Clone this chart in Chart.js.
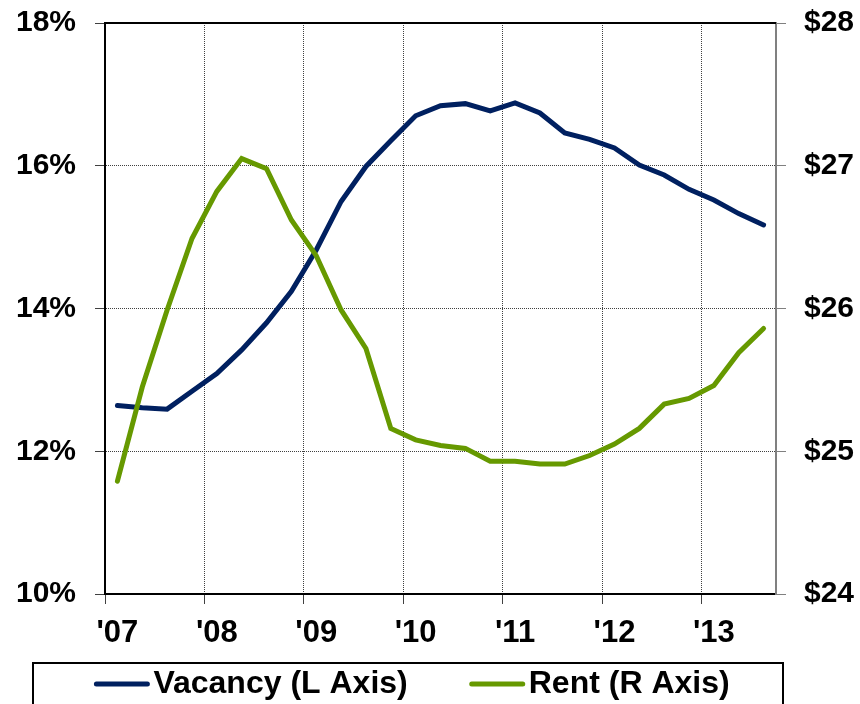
<!DOCTYPE html>
<html>
<head>
<meta charset="utf-8">
<script src="https://cdn.jsdelivr.net/npm/chart.js@4.4.1/dist/chart.umd.min.js"></script>
<style>
  html, body { margin: 0; padding: 0; background: #ffffff; }
  #wrap { width: 860px; height: 704px; }
</style>
</head>
<body>
<div id="wrap"><canvas id="chart" width="860" height="704"></canvas></div>
<script>
// Quarterly observations, 1Q07 through 3Q13
const quarters = [
  '1Q07', '2Q07', '3Q07', '4Q07',
  '1Q08', '2Q08', '3Q08', '4Q08',
  '1Q09', '2Q09', '3Q09', '4Q09',
  '1Q10', '2Q10', '3Q10', '4Q10',
  '1Q11', '2Q11', '3Q11', '4Q11',
  '1Q12', '2Q12', '3Q12', '4Q12',
  '1Q13', '2Q13', '3Q13'
];

// Year labels shown under the first quarter of each year
const yearLabels = ["'07", "'08", "'09", "'10", "'11", "'12", "'13"];

// Vacancy rate, % (left axis)
const vacancy = [
  12.64, 12.61, 12.59, 12.84,
  13.09, 13.42, 13.80, 14.24,
  14.82, 15.50, 15.99, 16.35,
  16.70, 16.84, 16.87, 16.77,
  16.88, 16.74, 16.46, 16.37,
  16.25, 16.01, 15.87, 15.67,
  15.52, 15.33, 15.17
];

// Asking rent, $ per sq ft (right axis)
const rent = [
  24.79, 25.45, 25.99, 26.49,
  26.82, 27.05, 26.98, 26.62,
  26.37, 25.99, 25.72, 25.16,
  25.08, 25.04, 25.02, 24.93,
  24.93, 24.91, 24.91, 24.97,
  25.05, 25.16, 25.33, 25.37,
  25.46, 25.69, 25.86
];

const seriesNames = ['Vacancy (L Axis)', 'Rent (R Axis)'];
const seriesColors = ['#002060', '#669900'];

const FONT = 'Liberation Sans, Arial, Helvetica, sans-serif';
const GRID = '#404040';

// Draws the closing top edge of the plot frame and the boxed key below the axis
const frameAndKey = {
  id: 'frameAndKey',
  afterDraw(chart) {
    const { ctx, chartArea: a } = chart;
    ctx.save();

    ctx.strokeStyle = '#000000';
    ctx.lineWidth = 2;
    ctx.beginPath();
    ctx.moveTo(a.left - 1, a.top);
    ctx.lineTo(a.right, a.top);
    ctx.stroke();

    // key frame
    const box = { left: 33, right: 783, top: 663 };
    ctx.strokeRect(box.left, box.top, box.right - box.left, 60);

    ctx.font = 'bold 32px ' + FONT;
    ctx.textBaseline = 'alphabetic';
    ctx.textAlign = 'left';
    const sample = 55, gap = 4, between = 62;
    const widths = chart.data.datasets.map(d => ctx.measureText(d.label).width);
    const total = widths.reduce((s, w) => s + sample + gap + w, 0) + between * (widths.length - 1);
    let x = (box.left + box.right) / 2 + 4 - total / 2;
    const lineY = 684, textY = 693;
    chart.data.datasets.forEach((d, i) => {
      ctx.strokeStyle = d.borderColor;
      ctx.lineWidth = 5;
      ctx.lineCap = 'round';
      ctx.beginPath();
      ctx.moveTo(x + 2, lineY);
      ctx.lineTo(x + sample - 2, lineY);
      ctx.stroke();
      ctx.fillStyle = '#000000';
      ctx.fillText(d.label, x + sample + gap, textY);
      x += sample + gap + widths[i] + between;
    });
    ctx.restore();
  }
};

// Fixed axis band sizes; label overhang is absorbed by the layout padding
const fixWidth = w => scale => {
  scale.width = w;
  scale.paddingTop = 0;
  scale.paddingBottom = 0;
};

new Chart(document.getElementById('chart'), {
  type: 'line',
  data: {
    labels: quarters,
    datasets: [
      {
        label: seriesNames[0],
        data: vacancy,
        yAxisID: 'yL',
        borderColor: seriesColors[0],
        backgroundColor: seriesColors[0],
        borderWidth: 5,
        borderCapStyle: 'round',
        pointRadius: 0,
        tension: 0,
        order: 1
      },
      {
        label: seriesNames[1],
        data: rent,
        yAxisID: 'yR',
        borderColor: seriesColors[1],
        backgroundColor: seriesColors[1],
        borderWidth: 5,
        borderCapStyle: 'round',
        pointRadius: 0,
        tension: 0,
        order: 0
      }
    ]
  },
  options: {
    responsive: false,
    animation: false,
    devicePixelRatio: 1,
    layout: { padding: { top: 23, left: 0, right: 0, bottom: 0 } },
    plugins: {
      legend: { display: false },
      tooltip: { enabled: false }
    },
    scales: {
      x: {
        type: 'category',
        offset: true,
        afterFit(scale) {
          scale.height = 110;
          scale.paddingLeft = 0;
          scale.paddingRight = 0;
        },
        grid: {
          offset: true,
          drawOnChartArea: true,
          lineWidth: 1,
          tickLength: 10,
          color: c => (c.index !== undefined && c.index > 0 && c.index % 4 === 0) ? GRID : 'rgba(0,0,0,0)',
          tickColor: c => (c.index !== undefined && c.index % 4 === 0) ? GRID : 'rgba(0,0,0,0)'
        },
        border: { display: true, color: '#000000', width: 2, dash: [1, 1] },
        ticks: {
          autoSkip: false,
          maxRotation: 0,
          minRotation: 0,
          padding: 11,
          color: '#000000',
          font: { family: FONT, size: 31, weight: 'bold' },
          callback: (value, index) => index % 4 === 0 ? yearLabels[index / 4] : ''
        }
      },
      yL: {
        type: 'linear',
        position: 'left',
        min: 10,
        max: 18,
        afterFit: fixWidth(105),
        grid: {
          drawOnChartArea: true,
          color: GRID,
          lineWidth: 1,
          tickLength: 10,
          tickColor: GRID,
          tickBorderDash: []
        },
        border: { display: true, color: '#000000', width: 2, dash: [1, 1] },
        ticks: {
          stepSize: 2,
          padding: 19,
          color: '#000000',
          font: { family: FONT, size: 30, weight: 'bold' },
          callback: v => v + '%'
        }
      },
      yR: {
        type: 'linear',
        position: 'right',
        min: 24,
        max: 28,
        afterFit: fixWidth(84),
        grid: {
          drawOnChartArea: false,
          tickLength: 10,
          tickColor: '#808080'
        },
        border: { display: true, color: '#808080', width: 2 },
        ticks: {
          stepSize: 1,
          padding: 18,
          color: '#000000',
          font: { family: FONT, size: 30, weight: 'bold' },
          callback: v => '$' + v
        }
      }
    }
  },
  plugins: [frameAndKey]
});
</script>
</body>
</html>
